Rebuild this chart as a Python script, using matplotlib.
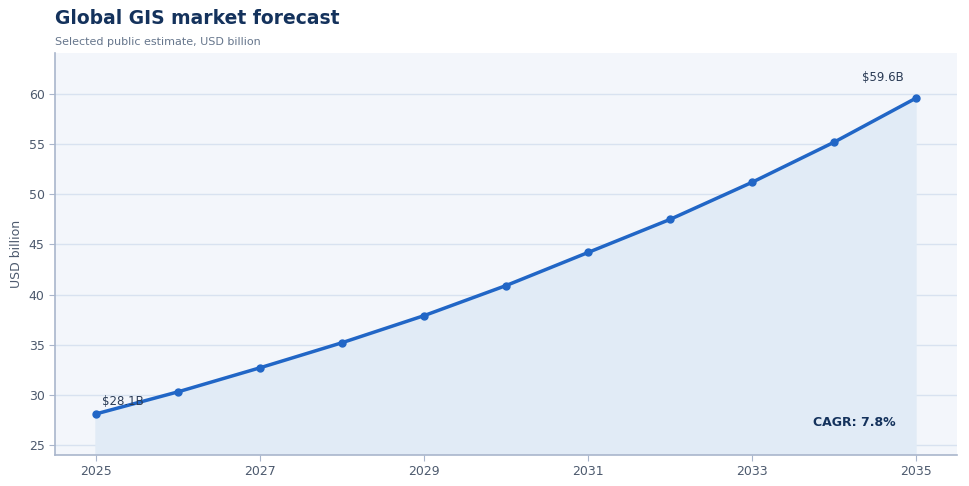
import numpy as np
import matplotlib
matplotlib.use("Agg")
import matplotlib.pyplot as plt

# data
years = [2025, 2026, 2027, 2028, 2029, 2030, 2031, 2032, 2033, 2034, 2035]
values = [28.1, 30.3, 32.7, 35.2, 37.9, 40.9, 44.2, 47.5, 51.2, 55.2, 59.6]
xticks = [2025, 2027, 2029, 2031, 2033, 2035]
yticks = [25, 30, 35, 40, 45, 50, 55, 60]
cagr_label = "CAGR: 7.8%"

navy = "#14325c"
line_c = "#2166c6"
tick_c = "#4d5a6e"
spine_c = "#a9b6cc"

fig = plt.figure(figsize=(9.69, 4.86), dpi=100)
ax = fig.add_axes([55 / 969, 1 - 455 / 486, 902 / 969, 402 / 486])
ax.set_facecolor("#f3f6fb")

ax.fill_between(years, values, 0, color="#e1ebf6", zorder=1)
ax.plot(years, values, color=line_c, linewidth=2.5, marker="o", markersize=5, zorder=3)

ax.set_xlim(2024.5, 2035.5)
ax.set_ylim(24.0, 64.1)
ax.set_xticks(xticks)
ax.set_xticklabels([str(y) for y in xticks])
ax.set_yticks(yticks)

ax.grid(axis="y", color="#d8e2f0", linewidth=1)
ax.set_axisbelow(True)
for s in ["top", "right"]:
    ax.spines[s].set_visible(False)
for s in ["left", "bottom"]:
    ax.spines[s].set_color(spine_c)
    ax.spines[s].set_linewidth(1.2)
ax.tick_params(colors=tick_c, labelsize=9, length=4, color=spine_c)
ax.set_ylabel("USD billion", color=tick_c, fontsize=9, labelpad=4)

ax.annotate(f"${values[0]}B", (years[0], values[0]), xytext=(4, 4),
            textcoords="offset points", fontsize=8.5, color="#2a3b55", ha="left", va="bottom")
ax.annotate(f"${values[-1]}B", (years[-1], values[-1]), xytext=(-9, 10),
            textcoords="offset points", fontsize=8.5, color="#2a3b55", ha="right", va="bottom")
ax.text(0.932, 0.082, cagr_label, transform=ax.transAxes, ha="right", va="center",
        fontsize=9, fontweight="bold", color=navy)

fig.text(55 / 969, 1 - 19 / 486, "Global GIS market forecast", fontsize=13.5,
         fontweight="bold", color=navy, ha="left", va="center")
fig.text(55 / 969, 1 - 42 / 486, "Selected public estimate, USD billion", fontsize=8,
         color="#66768c", ha="left", va="center")

fig.savefig("out.png", dpi=100)
